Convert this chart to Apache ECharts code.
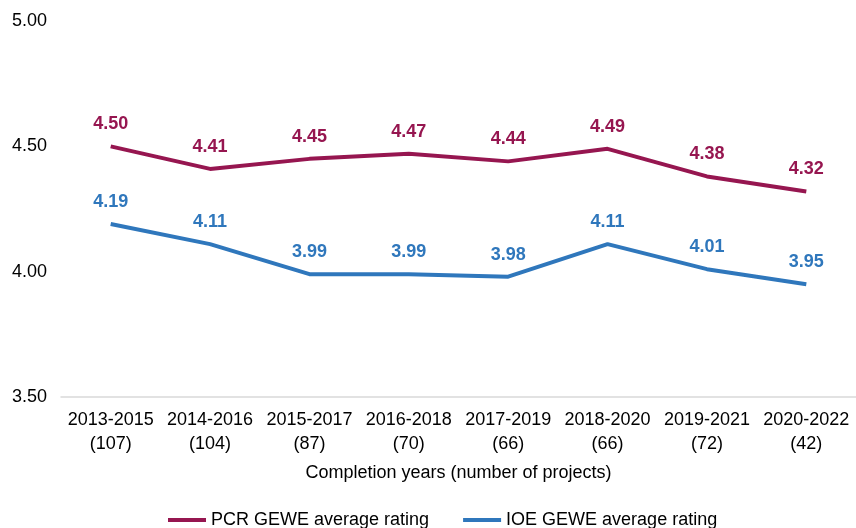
<!DOCTYPE html>
<html>
<head>
<meta charset="utf-8">
<script src="https://cdn.jsdelivr.net/npm/echarts@6/dist/echarts.min.js"></script>
<style>
  html, body { margin: 0; padding: 0; background: #fff; }
  #chart { width: 856px; height: 528px; }
</style>
</head>
<body>
<div id="chart"></div>
<script>
// 数据
const categories = ['2013-2015\n(107)', '2014-2016\n(104)', '2015-2017\n(87)', '2016-2018\n(70)',
  '2017-2019\n(66)', '2018-2020\n(66)', '2019-2021\n(72)', '2020-2022\n(42)']
const pcrRatings = [4.50, 4.41, 4.45, 4.47, 4.44, 4.49, 4.38, 4.32]
const ioeRatings = [4.19, 4.11, 3.99, 3.99, 3.98, 4.11, 4.01, 3.95]
const seriesNames = ['PCR GEWE average rating', 'IOE GEWE average rating']

const myChart = echarts.init(document.getElementById('chart'))

const lineSeries = (name, data, color) => ({
  name: name,
  type: 'line',
  data: data,
  symbol: 'circle',
  symbolSize: 0,
  lineStyle: { color: color, width: 4 },
  itemStyle: { color: color },
  label: {
    show: true,
    position: 'top',
    distance: 13,
    color: color,
    fontWeight: 'bold',
    fontSize: 18,
    fontFamily: 'Liberation Sans',
    formatter: (p) => p.value.toFixed(2)
  }
})

const options = {
  textStyle: { fontFamily: 'Liberation Sans' },
  grid: { left: 61, right: -5, top: 21, bottom: 131 },
  xAxis: {
    type: 'category',
    data: categories,
    name: 'Completion years (number of projects)',
    nameLocation: 'middle',
    nameGap: 67,
    nameTextStyle: { color: '#000', fontSize: 18 },
    axisLine: { lineStyle: { color: '#d9d9d9', width: 1.5 } },
    axisTick: { show: false },
    axisLabel: { color: '#000', fontSize: 18, lineHeight: 24, margin: 11, interval: 0 }
  },
  yAxis: {
    type: 'value',
    min: 3.5,
    max: 5.0,
    interval: 0.5,
    splitLine: { show: false },
    axisLabel: { color: '#000', fontSize: 18, margin: 14, formatter: (v) => v.toFixed(2) }
  },
  legend: {
    bottom: -6,
    left: 163,
    itemWidth: 38,
    itemHeight: 4,
    itemGap: 34,
    icon: 'rect',
    textStyle: { color: '#000', fontSize: 18 },
    data: seriesNames
  },
  series: [
    lineSeries(seriesNames[0], pcrRatings, '#961650'),
    lineSeries(seriesNames[1], ioeRatings, '#2f77bc')
  ]
}

myChart.setOption(options)
</script>
</body>
</html>
